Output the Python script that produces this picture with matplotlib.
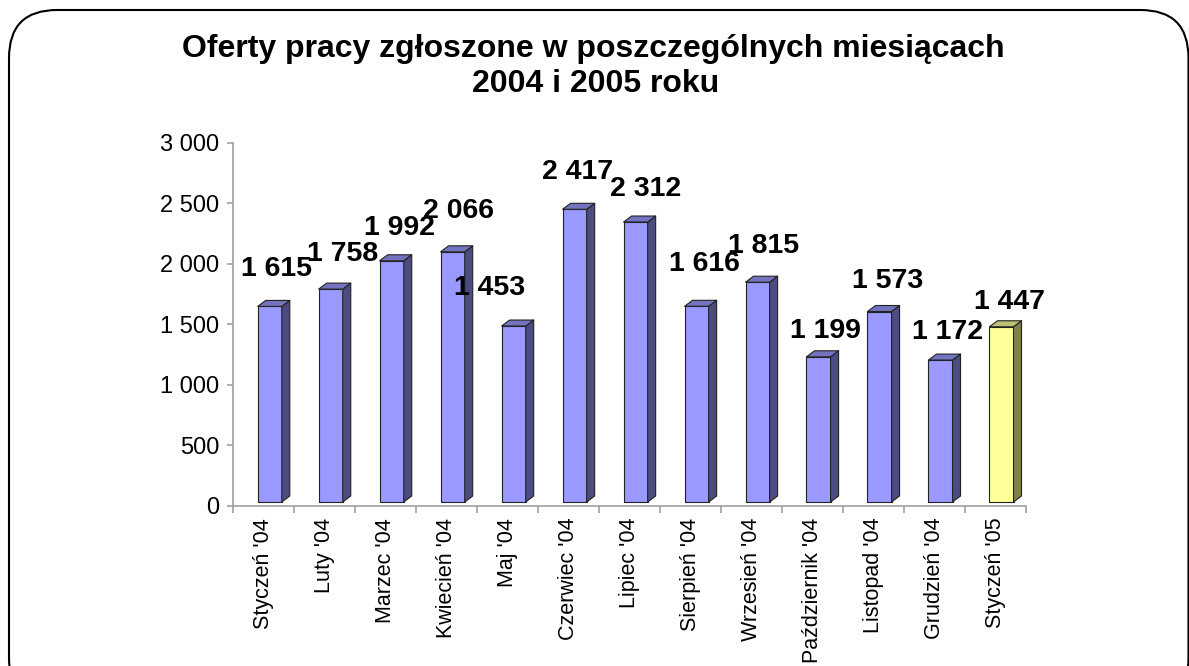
import numpy as np
import matplotlib
matplotlib.use("Agg")
from matplotlib import pyplot as plt
from matplotlib.patches import Polygon, FancyBboxPatch
from matplotlib.ticker import FuncFormatter, FixedLocator
from matplotlib.transforms import IdentityTransform

plt.rcParams['font.family'] = ['Liberation Sans', 'DejaVu Sans']

months = ["Styczeń '04", "Luty '04", "Marzec '04", "Kwiecień '04", "Maj '04",
          "Czerwiec '04", "Lipiec '04", "Sierpień '04", "Wrzesień '04",
          "Październik '04", "Listopad '04", "Grudzień '04", "Styczeń '05"]
offers = [1615, 1758, 1992, 2066, 1453, 2417, 2312, 1616, 1815, 1199, 1573, 1172, 1447]
y_ticks = [0, 500, 1000, 1500, 2000, 2500, 3000]
title_lines = ["Oferty pracy zgłoszone w poszczególnych miesiącach", "2004 i 2005 roku"]

# label nudges in pixels (dx from bar centre, dy above the bar top)
label_dx = [7, 12, 8, 6, -24, 3, 10, 8, 6, 7, 8, 7, 8]
label_dy = [34, 32, 30, 38, 35, 34, 30, 39, 33, 23, 28, 25, 22]

W, H = 1189, 666
fig = plt.figure(figsize=(W / 100, H / 100), dpi=100)

# axes box in pixels
x0, x1 = 233.3, 1026.0
y0, y1 = 506.0, 142.7
ax = fig.add_axes([x0 / W, (H - y0) / H, (x1 - x0) / W, (y0 - y1) / H])
ax.set_xlim(-0.5, len(months) - 0.5)
ax.set_ylim(0, 3000)

px_x = (x1 - x0) / len(months)   # pixels per category
px_y = (y0 - y1) / 3000          # pixels per unit

def ux(p):
    return p / px_x

def uy(p):
    return p / px_y

front_cols = ['#9999FF'] * (len(months) - 1) + ['#FFFF99']
side_cols = ['#4C4C80'] * (len(months) - 1) + ['#80804C']
top_cols = ['#7373BF'] * (len(months) - 1) + ['#BFBF73']

lift = uy(4)
ddx, ddy = ux(8), uy(6)
for i, v in enumerate(offers):
    L = i - ux(6.1)
    R = i + ux(18)
    b, t = lift, v + lift
    kw = dict(edgecolor='#222222', linewidth=0.8, clip_on=False, joinstyle='round')
    ax.add_patch(Polygon([(L, b), (R, b), (R, t), (L, t)], facecolor=front_cols[i], **kw))
    ax.add_patch(Polygon([(R, b), (R + ddx, b + ddy), (R + ddx, t + ddy), (R, t)],
                         facecolor=side_cols[i], **kw))
    ax.add_patch(Polygon([(L, t), (R, t), (R + ddx, t + ddy), (L + ddx, t + ddy)],
                         facecolor=top_cols[i], **kw))
    ax.annotate(f"{v:,}".replace(",", " "), xy=((L + R) / 2, t),
                xytext=(label_dx[i], label_dy[i] - 4), textcoords='offset pixels',
                ha='center', va='baseline', fontsize=20.5, fontweight='bold')

for s in ['top', 'right']:
    ax.spines[s].set_visible(False)
for s in ['left', 'bottom']:
    ax.spines[s].set_color('#A0A0A0')
    ax.spines[s].set_linewidth(1.2)

ax.yaxis.set_major_locator(FixedLocator(y_ticks))
ax.yaxis.set_major_formatter(FuncFormatter(lambda v, p: f"{int(v):,}".replace(",", " ")))
ax.tick_params(axis='y', length=4, width=1.2, color='#A0A0A0', pad=6, labelsize=17)

ax.xaxis.set_major_locator(FixedLocator(np.arange(len(months) + 1) - 0.5))
ax.xaxis.set_minor_locator(FixedLocator(np.arange(len(months))))
ax.tick_params(axis='x', which='major', length=5, width=1.2, color='#A0A0A0', labelbottom=False)
ax.tick_params(axis='x', which='minor', length=0, pad=8.5, labelsize=15.5)
ax.set_xticklabels(months, minor=True, rotation=90, va='top', ha='center')

fig.text(593 / W, 1 - 57 / H, title_lines[0], ha='center', va='baseline',
         fontsize=23, fontweight='bold')
fig.text(596 / W, 1 - 92 / H, title_lines[1], ha='center', va='baseline',
         fontsize=23, fontweight='bold')

border = FancyBboxPatch((9, -40), 1179.5, H - 10 + 40,
                        boxstyle="round,pad=0,rounding_size=48",
                        transform=IdentityTransform(), facecolor='none',
                        edgecolor='black', linewidth=1.5)
fig.patches.append(border)

fig.savefig("out.png", dpi=100)
